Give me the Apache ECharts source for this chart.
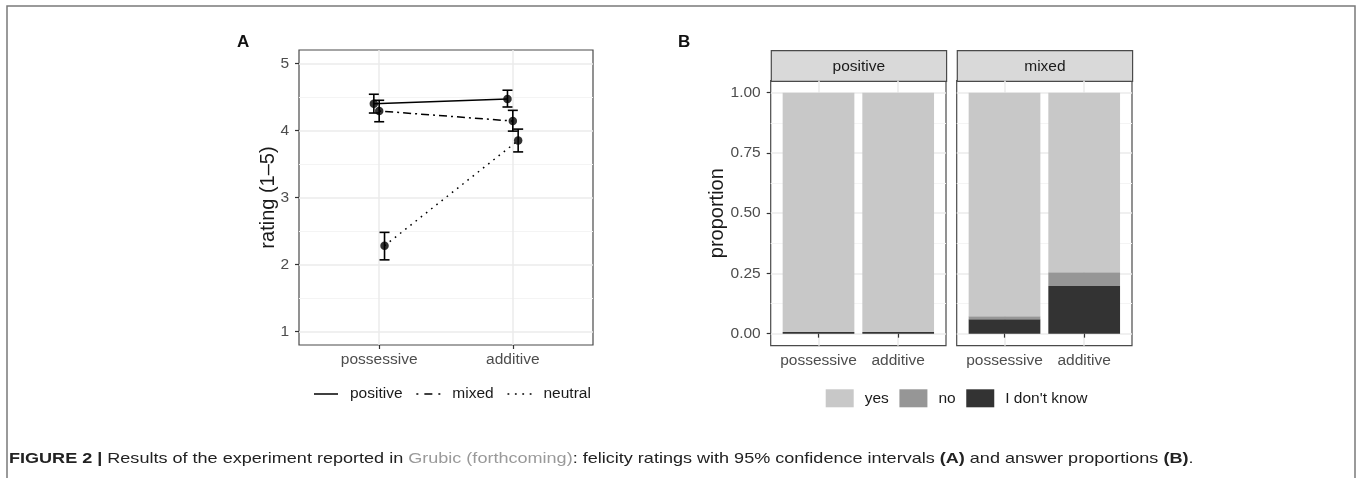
<!DOCTYPE html>
<html><head><meta charset="utf-8">
<script src="https://cdn.jsdelivr.net/npm/echarts@6/dist/echarts.min.js"></script>
<style>html,body{margin:0;padding:0;background:#fff}#c{width:1357px;height:478px}</style>
</head><body><div id="c"></div>
<script>
// ---------- data ----------
const conditions = ['possessive', 'additive'];
const groups = ['positive', 'mixed', 'neutral'];
const positiveMean = [4.40, 4.47];
const positiveLow = [4.26, 4.35];
const positiveHigh = [4.54, 4.60];
const mixedMean = [4.29, 4.14];
const mixedLow = [4.13, 3.99];
const mixedHigh = [4.45, 4.30];
const neutralMean = [2.28, 3.85];
const neutralLow = [2.07, 3.68];
const neutralHigh = [2.48, 4.02];
const dodge = [-0.04, 0, 0.04];
const ratingTicks = [1, 2, 3, 4, 5];
const ratingMinor = [1.5, 2.5, 3.5, 4.5];

const facets = ['positive', 'mixed'];
const answers = ['yes', 'no', "I don't know"];
const yesPositive = [0.993, 0.993];
const noPositive = [0.0, 0.0];
const idkPositive = [0.007, 0.007];
const yesMixed = [0.928, 0.745];
const noMixed = [0.012, 0.057];
const idkMixed = [0.060, 0.198];
const proportionTicks = [0, 0.25, 0.5, 0.75, 1];
const proportionMinor = [0.125, 0.375, 0.625, 0.875];

// ---------- styles ----------
const FONT = 'Liberation Sans';
const tickText = '#4d4d4d';
const gridMajor = '#ebebeb';
const gridMinor = '#f4f4f4';
const border = '#4a4a4a';
const answerColors = { 'yes': '#c8c8c8', 'no': '#969696', "I don't know": '#333333' };
const groupDash = { positive: 'solid', mixed: [2, 4, 8, 4], neutral: [1.6, 5] };
const groupIcon = {
  positive: 'path://M0,0H24V1.5H0Z',
  mixed: 'path://M0,0H2V1.5H0Z M8,0H16V1.5H8Z M22,0H24V1.5H22Z',
  neutral: 'path://M0,0H1.8V1.5H0Z M7.4,0H9.2V1.5H7.4Z M14.8,0H16.6V1.5H14.8Z M22.2,0H24V1.5H22.2Z'
};

const catIdx = [1, 2];
const condFmt = v => conditions[Math.round(v) - 1] || '';

function xAxisCat(gridIndex) {
  return {
    gridIndex, type: 'value', min: 0.4, max: 2.6,
    axisLine: { show: false },
    axisTick: { show: true, customValues: catIdx, length: 4, lineStyle: { color: '#333', width: 1.2 } },
    axisLabel: { customValues: catIdx, formatter: condFmt, color: tickText, fontSize: 15.5, margin: 7, fontFamily: FONT },
    splitLine: { show: true, lineStyle: { color: gridMajor, width: 1.5 } }
  };
}
function yMajor(gridIndex, min, max, ticks, fmt, showLabels, name, nameGap) {
  return {
    gridIndex, type: 'value', min, max,
    axisLine: { show: false },
    axisTick: { show: showLabels, customValues: ticks, length: 4, lineStyle: { color: '#333', width: 1.2 } },
    axisLabel: { show: showLabels, customValues: ticks, formatter: fmt, color: tickText, fontSize: 15.5, margin: 10, fontFamily: FONT },
    splitLine: { show: true, lineStyle: { color: gridMajor, width: 1.5 } },
    name, nameLocation: 'middle', nameGap, nameMoveOverlap: false,
    nameTextStyle: { fontSize: 20, color: '#1a1a1a', fontFamily: FONT }
  };
}
function yMinor(gridIndex, min, max, ticks) {
  return {
    gridIndex, type: 'value', min, max,
    axisLine: { show: false },
    axisTick: { show: false, customValues: ticks },
    axisLabel: { show: false, customValues: ticks },
    splitLine: { show: true, lineStyle: { color: gridMinor, width: 1 } }
  };
}

const means = [positiveMean, mixedMean, neutralMean];
const lows = [positiveLow, mixedLow, neutralLow];
const highs = [positiveHigh, mixedHigh, neutralHigh];

const series = [];
groups.forEach((g, gi) => {
  series.push({
    name: g, type: 'line', xAxisIndex: 0, yAxisIndex: 0,
    symbol: 'none', z: 3,
    data: catIdx.map((c, i) => [c + dodge[gi], means[gi][i]]),
    lineStyle: { color: '#000', width: 1.5, type: groupDash[g] },
    itemStyle: { color: '#000' }
  });
});
const errData = [], ptData = [];
groups.forEach((g, gi) => catIdx.forEach((c, i) => {
  errData.push([c + dodge[gi], lows[gi][i], highs[gi][i]]);
  ptData.push([c + dodge[gi], means[gi][i]]);
}));
series.push({
  name: 'ci', type: 'custom', xAxisIndex: 0, yAxisIndex: 0, z: 4,
  data: errData, encode: { x: 0, y: [1, 2] },
  renderItem(params, api) {
    const x = api.value(0);
    const top = api.coord([x, api.value(2)]);
    const bot = api.coord([x, api.value(1)]);
    const hw = 5;
    const st = { stroke: '#000', lineWidth: 1.6 };
    return { type: 'group', children: [
      { type: 'line', shape: { x1: top[0], y1: top[1], x2: bot[0], y2: bot[1] }, style: st },
      { type: 'line', shape: { x1: top[0] - hw, y1: top[1], x2: top[0] + hw, y2: top[1] }, style: st },
      { type: 'line', shape: { x1: bot[0] - hw, y1: bot[1], x2: bot[0] + hw, y2: bot[1] }, style: st }
    ]};
  }
});
series.push({
  name: 'points', type: 'scatter', xAxisIndex: 0, yAxisIndex: 0, z: 5,
  symbol: 'circle', symbolSize: 8.5, itemStyle: { color: '#000' }, data: ptData
});

// stacked proportion bars (bottom -> top: I don't know, no, yes)
const facetData = [
  [["I don't know", idkPositive], ['no', noPositive], ['yes', yesPositive]],
  [["I don't know", idkMixed], ['no', noMixed], ['yes', yesMixed]]
];
const BAR_W = 0.9;
function barRender(params, api) {
  const x = api.value(0);
  const p0 = api.coord([x - BAR_W / 2, api.value(1)]);
  const p1 = api.coord([x + BAR_W / 2, api.value(2)]);
  return {
    type: 'rect',
    shape: { x: p0[0], y: p1[1], width: p1[0] - p0[0], height: p0[1] - p1[1] },
    style: { fill: api.visual('color') }
  };
}
facets.forEach((f, fi) => {
  let cum = catIdx.map(() => 0);
  facetData[fi].forEach(([nm, vals]) => {
    const data = catIdx.map((c, i) => [c, cum[i], cum[i] + vals[i]]);
    cum = cum.map((v, i) => v + vals[i]);
    series.push({
      name: nm, type: 'custom', xAxisIndex: 1 + fi, yAxisIndex: 2 + fi * 2,
      itemStyle: { color: answerColors[nm] },
      encode: { x: 0, y: [1, 2] },
      data, renderItem: barRender, z: 2
    });
  });
});

const strips = facets.map((f, fi) => ({
  type: 'group', left: fi === 0 ? 770.7 : 956.7, top: 50,
  children: [
    { type: 'rect', shape: { x: 0, y: 0, width: 175.3, height: 30.7 }, style: { fill: '#d9d9d9', stroke: border, lineWidth: 1.2 } },
    { type: 'text', style: { text: f, x: 87.6, y: 15.8, align: 'center', verticalAlign: 'middle', fontSize: 15.5, fontFamily: FONT, fill: '#1a1a1a' } }
  ]
}));

const option = {
  animation: false,
  backgroundColor: '#fff',
  textStyle: { fontFamily: FONT },
  grid: [
    { left: 299, top: 50, width: 294, height: 295, show: true, borderColor: border, borderWidth: 1.2, backgroundColor: 'transparent' },
    { left: 770.7, top: 80.7, width: 175.3, height: 265, show: true, borderColor: border, borderWidth: 1.2, backgroundColor: 'transparent' },
    { left: 956.7, top: 80.7, width: 175.3, height: 265, show: true, borderColor: border, borderWidth: 1.2, backgroundColor: 'transparent' }
  ],
  xAxis: [xAxisCat(0), xAxisCat(1), xAxisCat(2)],
  yAxis: [
    yMajor(0, 0.8, 5.2, ratingTicks, v => String(Math.round(v)), true, 'rating (1–5)', 20.5),
    yMinor(0, 0.8, 5.2, ratingMinor),
    yMajor(1, -0.05, 1.05, proportionTicks, v => v.toFixed(2), true, 'proportion', 43.5),
    yMinor(1, -0.05, 1.05, proportionMinor),
    yMajor(2, -0.05, 1.05, proportionTicks, v => v.toFixed(2), false, '', 0),
    yMinor(2, -0.05, 1.05, proportionMinor)
  ],
  legend: [
    {
      data: groups.map(g => ({ name: g, icon: groupIcon[g] })),
      left: 314, top: 386, padding: 0, itemGap: 13.8,
      itemWidth: 24, itemHeight: 1.5,
      textStyle: { fontSize: 15.5, color: '#1a1a1a', fontFamily: FONT, padding: [0, 0, 0, 7] },
      selectedMode: false
    },
    {
      data: answers, left: 825.7, top: 389.3, padding: 0, itemGap: 10.6,
      itemWidth: 28, itemHeight: 18, icon: 'rect',
      textStyle: { fontSize: 15.5, color: '#1a1a1a', fontFamily: FONT, padding: [0, 0, 0, 6] },
      selectedMode: false
    }
  ],
  graphic: [
    { type: 'rect', shape: { x: 7, y: 6, width: 1348, height: 490 }, style: { fill: 'none', stroke: '#7a7a7a', lineWidth: 1.5 }, silent: true },
    { type: 'text', left: 237, top: 34, style: { text: 'A', fontSize: 17, fontWeight: 'bold', fontFamily: FONT, fill: '#111' } },
    { type: 'text', left: 678, top: 34, style: { text: 'B', fontSize: 17, fontWeight: 'bold', fontFamily: FONT, fill: '#111' } },
    ...strips,
    {
      type: 'text', x: 9, y: 451, scaleX: 1.203,
      style: {
        text: '{b|FIGURE 2 |} Results of the experiment reported in {g|Grubic (forthcoming)}: felicity ratings with 95% confidence intervals {b|(A)} and answer proportions {b|(B)}.',
        fontSize: 15, fontFamily: FONT, fill: '#222',
        rich: {
          b: { fontSize: 15, fontFamily: FONT, fontWeight: 'bold', fill: '#222' },
          g: { fontSize: 15, fontFamily: FONT, fill: '#9a9a9a' }
        }
      }
    }
  ],
  series
};
const chart = echarts.init(document.getElementById('c'), null, { renderer: 'canvas' });
chart.setOption(option);
</script>
</body></html>
